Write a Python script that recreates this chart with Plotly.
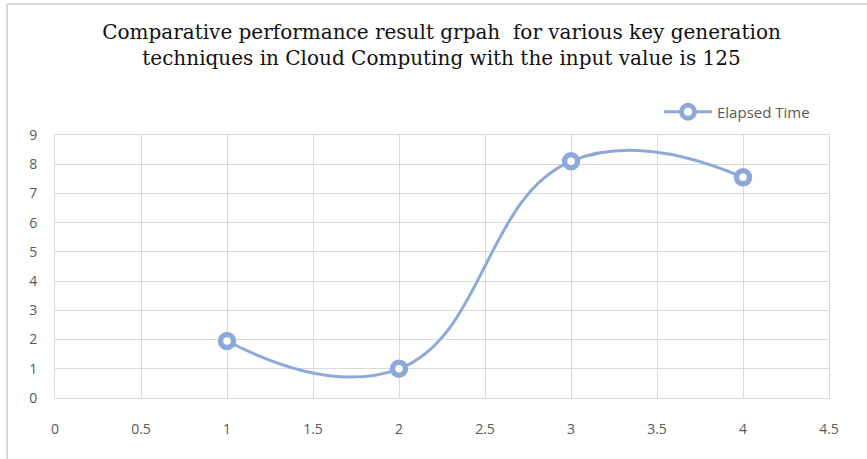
import plotly.graph_objects as go

x_vals = [1, 2, 3, 4]
elapsed_time = [1.95, 1.0, 8.1, 7.55]
series_name = "Elapsed Time"
title_lines = ["Comparative performance result grpah  for various key generation",
               "techniques in Cloud Computing with the input value is 125"]
x_ticks = [0, 0.5, 1, 1.5, 2, 2.5, 3, 3.5, 4, 4.5]
x_tick_text = ["0", "0.5", "1", "1.5", "2", "2.5", "3", "3.5", "4", "4.5"]
y_ticks = list(range(0, 10))

W, H = 867, 459
L, R, T, B = 55, 38, 135, 61
pw, ph = W - L - R, H - T - B

line_color = "#8DA9D9"

fig = go.Figure()
fig.add_trace(go.Scatter(
    x=x_vals, y=elapsed_time, name=series_name, mode="lines+markers",
    line=dict(color=line_color, width=3, shape="spline", smoothing=1.3),
    marker=dict(size=13, color="white", line=dict(color=line_color, width=5.5)),
))

fig.update_layout(
    width=W, height=H,
    margin=dict(l=L, r=R, t=T, b=B, autoexpand=False),
    paper_bgcolor="white", plot_bgcolor="white",
    font=dict(family="Open Sans, Liberation Sans, sans-serif", size=14, color="#595959"),
    title=dict(text="<br>".join(title_lines), x=0.5 + 8 / W, xanchor="center",
               y=1 - 39 / H, yanchor="top",
               font=dict(family="DejaVu Serif, Liberation Serif, serif", size=20, color="#111111")),
    showlegend=True,
    legend=dict(x=1 - 14 / pw, xanchor="right", y=1 + 23 / ph, yanchor="middle",
                itemwidth=48,
                bgcolor="rgba(0,0,0,0)", font=dict(size=15, color="#595959")),
    xaxis=dict(range=[0, 4.5], tickvals=x_ticks, ticktext=x_tick_text,
               showgrid=True, gridcolor="#D9D9D9", gridwidth=1,
               zeroline=False, showline=True, linecolor="#D9D9D9", mirror=True,
               ticks="", ticklabelstandoff=18, fixedrange=True),
    yaxis=dict(range=[0, 9], tickvals=y_ticks,
               showgrid=True, gridcolor="#D9D9D9", gridwidth=1,
               zeroline=False, showline=True, linecolor="#D9D9D9", mirror=True,
               ticks="", ticklabelstandoff=14, fixedrange=True),
)

# Chart frame borders (left and top)
fig.add_shape(type="line", xref="paper", yref="paper",
              x0=(7 - L) / pw, x1=(7 - L) / pw, y0=-(B + 5) / ph, y1=1 + (T - 4) / ph,
              line=dict(color="#D9D9D9", width=2))
fig.add_shape(type="line", xref="paper", yref="paper",
              x0=(7 - L) / pw, x1=(W - L + 5) / pw, y0=1 + (T - 4) / ph, y1=1 + (T - 4) / ph,
              line=dict(color="#D9D9D9", width=2))

fig.write_html("out.html", config={"displayModeBar": False},
               post_script="document.body.style.margin='0';")
